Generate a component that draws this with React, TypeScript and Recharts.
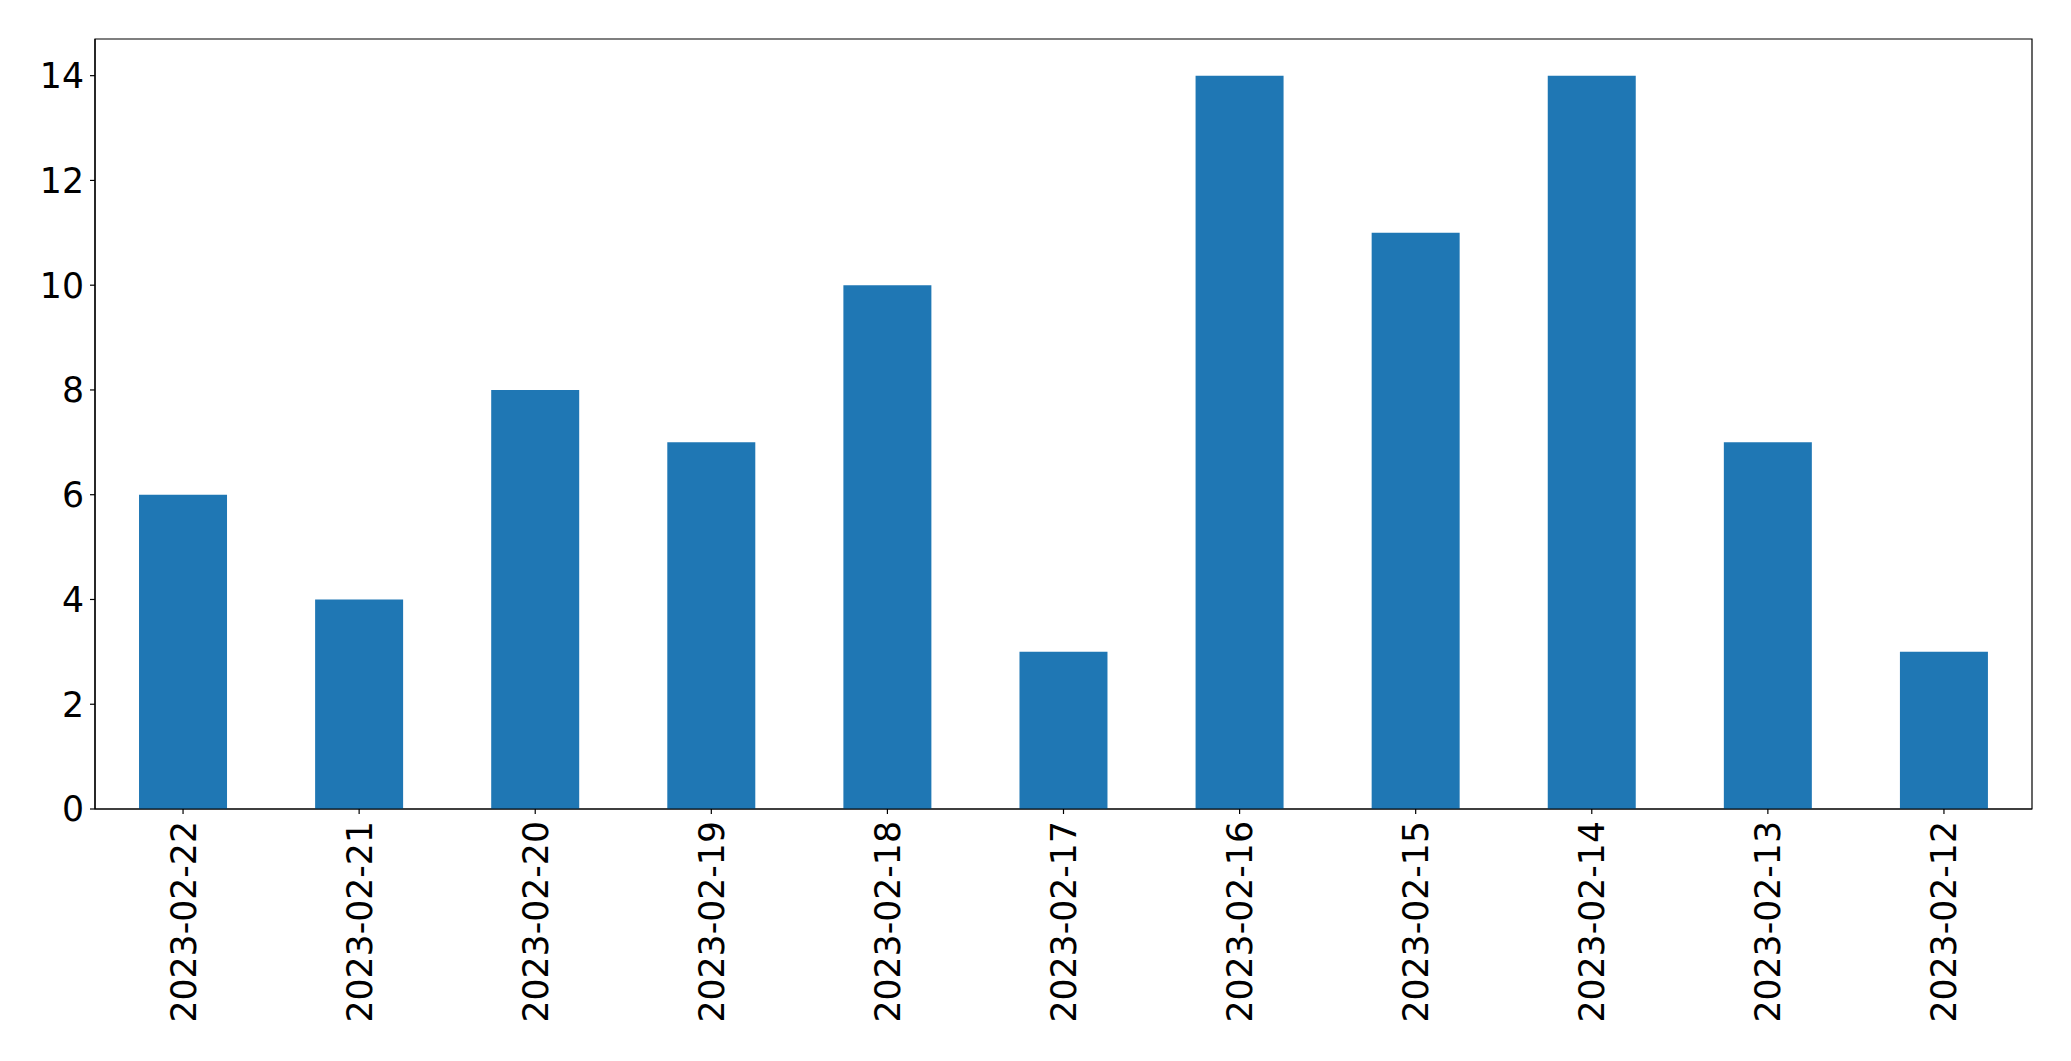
import React from 'react';
import { BarChart, Bar, XAxis, YAxis, ReferenceArea } from 'recharts';

const dates = [
  '2023-02-22', '2023-02-21', '2023-02-20', '2023-02-19', '2023-02-18', '2023-02-17',
  '2023-02-16', '2023-02-15', '2023-02-14', '2023-02-13', '2023-02-12',
];
const counts = [6, 4, 8, 7, 10, 3, 14, 11, 14, 7, 3];
const yTicks = [0, 2, 4, 6, 8, 10, 12, 14];
const yMax = 14.7;

const data = dates.map((date, i) => ({ date, count: counts[i] }));

const FONT = 'DejaVu Sans';
const FONT_SIZE = 34.7;

const DateTick = (props: any) => {
  const { x, y, payload } = props;
  return (
    <g transform={`translate(${x},${y}) rotate(-90)`}>
      <text x={-5} y={0} dy="0.36em" textAnchor="end" fill="#000" fontFamily={FONT} fontSize={FONT_SIZE}>
        {payload.value}
      </text>
    </g>
  );
};

export default function App() {
  return (
    <div style={{ position: 'absolute', left: 0, top: 0, background: '#fff' }}>
      <BarChart
        width={2071}
        height={1061}
        data={data}
        margin={{ top: 39, right: 39, left: 0, bottom: 0 }}
        barCategoryGap="25%"
      >
        <XAxis
          dataKey="date"
          height={252}
          interval={0}
          tick={<DateTick />}
          tickSize={5}
          tickMargin={2}
          axisLine={{ stroke: '#000', strokeWidth: 1.2 }}
          tickLine={{ stroke: '#000', strokeWidth: 1.2 }}
        />
        <YAxis
          width={95}
          domain={[0, yMax]}
          ticks={yTicks}
          interval={0}
          tickSize={5}
          tickMargin={6}
          tick={{ fill: '#000', fontFamily: FONT, fontSize: FONT_SIZE }}
          axisLine={{ stroke: '#000', strokeWidth: 1.2 }}
          tickLine={{ stroke: '#000', strokeWidth: 1.2 }}
        />
        <Bar dataKey="count" fill="#1f77b4" isAnimationActive={false} />
        <ReferenceArea y1={0} y2={yMax} fill="none" fillOpacity={0} stroke="#000" strokeWidth={1.2} strokeOpacity={1} />
      </BarChart>
    </div>
  );
}
